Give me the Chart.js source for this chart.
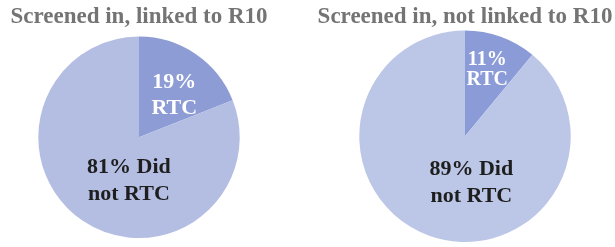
<!DOCTYPE html>
<html>
<head>
<meta charset="utf-8">
<script src="https://cdn.jsdelivr.net/npm/chart.js@4/dist/chart.umd.min.js"></script>
<style>
  html, body { margin: 0; padding: 0; background: #ffffff; }
  body { width: 615px; height: 247px; position: relative; overflow: hidden; }
  .box { position: absolute; top: 0; height: 247px; }
  #leftBox { left: 0; width: 278px; }
  #rightBox { left: 315px; width: 300px; }
</style>
</head>
<body>
<div class="box" id="leftBox"><canvas id="leftChart"></canvas></div>
<div class="box" id="rightBox"><canvas id="rightChart"></canvas></div>
<script>
// ---- data ----
const categories = ["RTC", "Did not RTC"];
const leftTitle = "Screened in, linked to R10";
const rightTitle = "Screened in, not linked to R10";
const leftValues = [19, 81];
const rightValues = [11, 89];
const leftLabels = [["19%", "RTC"], ["81% Did", "not RTC"]];
const rightLabels = [["11%", "RTC"], ["89% Did", "not RTC"]];

// ---- label drawing plugin ----
const sliceLabelPlugin = {
  id: 'sliceLabels',
  afterDatasetsDraw(chart, args, opts) {
    const ctx = chart.ctx;
    const meta = chart.getDatasetMeta(0);
    meta.data.forEach((arc, i) => {
      const spec = opts.specs[i];
      const lines = opts.texts[i];
      const r = arc.outerRadius;
      const cx = arc.x + spec.dx * r;
      const cy = arc.y + spec.dy * r;
      ctx.save();
      ctx.font = 'bold ' + spec.size + 'px "Liberation Serif", "Times New Roman", serif';
      ctx.fillStyle = spec.color;
      ctx.textAlign = 'center';
      ctx.textBaseline = 'middle';
      const n = lines.length;
      lines.forEach((t, k) => {
        ctx.fillText(t, cx, cy + (k - (n - 1) / 2) * spec.lh);
      });
      ctx.restore();
    });
  }
};

function makePie(id, title, values, texts, colors, titlePad, bottomPad, specs) {
  return new Chart(document.getElementById(id), {
    type: 'pie',
    data: {
      labels: categories,
      datasets: [{
        data: values,
        backgroundColor: colors,
        borderWidth: 0
      }]
    },
    options: {
      responsive: true,
      maintainAspectRatio: false,
      animation: false,
      layout: { padding: { top: 0, bottom: bottomPad, left: 0, right: 0 } },
      plugins: {
        legend: { display: false },
        tooltip: { enabled: false },
        title: {
          display: true,
          text: title,
          color: '#747474',
          font: { family: '"Liberation Serif", "Times New Roman", serif', size: 23, weight: 'bold', lineHeight: 1.2 },
          padding: titlePad
        },
        sliceLabels: { texts: texts, specs: specs }
      }
    },
    plugins: [sliceLabelPlugin]
  });
}

makePie('leftChart', leftTitle, leftValues, leftLabels,
  ['#8d9cd5', '#b4bee2'],
  { top: 3, bottom: 6 }, 9,
  [
    { dx: 0.35, dy: -0.42, size: 22, lh: 26, color: '#ffffff' },
    { dx: -0.10, dy: 0.43, size: 22, lh: 27, color: '#1e1e1e' }
  ]);

makePie('rightChart', rightTitle, rightValues, rightLabels,
  ['#8a9bd8', '#bcc6e7'],
  { top: 3, bottom: 0 }, 5,
  [
    { dx: 0.21, dy: -0.63, size: 20, lh: 20, color: '#ffffff' },
    { dx: 0.06, dy: 0.44, size: 22, lh: 27, color: '#1e1e1e' }
  ]);
</script>
</body>
</html>
